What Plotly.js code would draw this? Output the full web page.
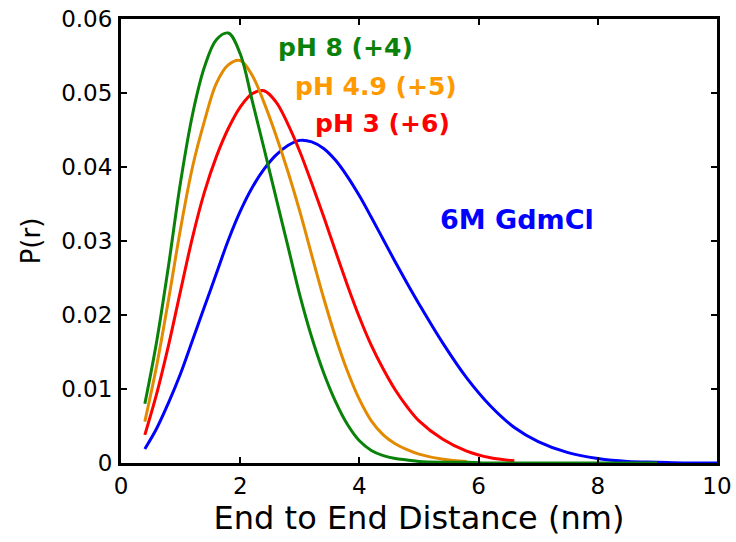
<!DOCTYPE html>
<html>
<head>
<meta charset="utf-8">
<script src="https://cdn.plot.ly/plotly-3.0.1.min.js"></script>
<style>html,body{margin:0;padding:0;background:#fff;}#chart{width:736px;height:542px;}</style>
</head>
<body>
<div id="chart"></div>
<script>
// End-to-end distance grid (nm)
const distance = [0.4,0.6,0.8,1.0,1.2,1.4,1.6,1.8,2.0,2.2,2.4,2.6,2.8,3.0,3.2,3.4,3.6,3.8,4.0,4.2,4.4,4.6,4.8,5.0,5.4,5.8,6.2,6.6,7.0,7.5,8.0,8.5,9.0,9.5,10.0];

// P(r) series
const p_pH8 = [0.0080,0.0165,0.0268,0.0380,0.0471,0.0535,0.0572,0.0581,0.0553,0.0490,0.0425,0.0359,0.0293,0.0227,0.0170,0.0122,0.0083,0.0052,0.0030,0.0017,0.0010,0.0006,0.0004,0.0002,0.0001,0.0001,0,0,0,0,0,0,0];
const p_pH49 = [0.0056,0.0132,0.0222,0.0317,0.0400,0.0462,0.0513,0.0538,0.0544,0.0524,0.0487,0.0443,0.0394,0.0340,0.0281,0.0223,0.0170,0.0124,0.0086,0.0057,0.0038,0.0026,0.0018,0.0012,0.0005,0.0002];
const p_pH3 = [0.0038,0.0094,0.0160,0.0233,0.0305,0.0366,0.0414,0.0452,0.0481,0.0499,0.0503,0.0488,0.0458,0.0421,0.0378,0.0333,0.0286,0.0240,0.0197,0.0159,0.0127,0.0099,0.0076,0.0057,0.0032,0.0016,0.0007,0.0003];
const p_gdmcl = [0.0019,0.0047,0.0082,0.0121,0.0166,0.0211,0.0256,0.0301,0.0340,0.0372,0.0397,0.0416,0.0429,0.0436,0.0434,0.0425,0.0409,0.0387,0.0361,0.0332,0.0302,0.0272,0.0243,0.0215,0.0162,0.0115,0.0077,0.0048,0.0029,0.0014,0.0006,0.0002,0.0001,0,0];

const labels = ["pH 8 (+4)", "pH 4.9 (+5)", "pH 3 (+6)", "6M GdmCl"];
const xTicks = [0,2,4,6,8,10];
const yTicks = [0,0.01,0.02,0.03,0.04,0.05,0.06];
const yTickText = ["0","0.01","0.02","0.03","0.04","0.05","0.06"];

const FONT = "DejaVu Sans, Arial, sans-serif";

function series(y, color, name) {
  return {
    x: distance.slice(0, y.length), y: y, name: name,
    type: "scatter", mode: "lines",
    line: {color: color, width: 3, shape: "spline", smoothing: 1},
    hoverinfo: "skip"
  };
}

const data = [
  series(p_gdmcl, "#0000ff", labels[3]),
  series(p_pH3, "#ff0000", labels[2]),
  series(p_pH49, "#e38a00", labels[1]),
  series(p_pH8, "#0a820a", labels[0])
];

const axisCommon = {
  showline: true, linecolor: "#000", linewidth: 3, mirror: "ticks",
  ticks: "inside", ticklen: 6, tickwidth: 2, tickcolor: "#000",
  showgrid: false, zeroline: false,
  tickfont: {family: FONT, size: 23, color: "#000"}
};

const layout = {
  width: 736, height: 542,
  margin: {l: 121, r: 19, t: 19, b: 79, pad: 0},
  paper_bgcolor: "#fff", plot_bgcolor: "#fff",
  showlegend: false,
  xaxis: Object.assign({}, axisCommon, {
    range: [0, 10], tickvals: xTicks, ticktext: xTicks.map(String),
    ticklabelstandoff: 0,
    title: {text: "End to End Distance (nm)", font: {family: FONT, size: 32, color: "#000"}, standoff: 4}
  }),
  yaxis: Object.assign({}, axisCommon, {
    range: [0, 0.06], tickvals: yTicks, ticktext: yTickText,
    ticklabelstandoff: 1,
    title: {text: "P(r)", font: {family: FONT, size: 26, color: "#000"}, standoff: 14}
  }),
  annotations: [
    {text: "<b>" + labels[0] + "</b>", x: 3.775, y: 0.0562, xref: "x", yref: "y", showarrow: false, xanchor: "center", yanchor: "middle", font: {family: FONT, size: 25, color: "#0a820a"}},
    {text: "<b>" + labels[1] + "</b>", x: 4.28, y: 0.0509, xref: "x", yref: "y", showarrow: false, xanchor: "center", yanchor: "middle", font: {family: FONT, size: 25, color: "#ff9900"}},
    {text: "<b>" + labels[2] + "</b>", x: 4.39, y: 0.0459, xref: "x", yref: "y", showarrow: false, xanchor: "center", yanchor: "middle", font: {family: FONT, size: 25, color: "#ff0000"}},
    {text: "<b>" + labels[3] + "</b>", x: 6.64, y: 0.0329, xref: "x", yref: "y", showarrow: false, xanchor: "center", yanchor: "middle", font: {family: FONT, size: 27, color: "#0000ff"}}
  ]
};

Plotly.newPlot("chart", data, layout, {staticPlot: true, displayModeBar: false});
</script>
</body>
</html>
